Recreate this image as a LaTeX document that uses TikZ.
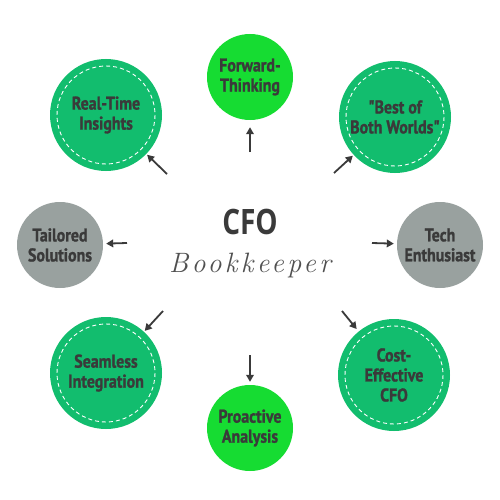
\documentclass[tikz,border=0pt]{standalone}
\usepackage{fontspec}
\setmainfont{PT Sans}
\newfontfamily\lblfont[FakeStretch=0.86,FakeBold=1.2]{PT Sans}
\newfontfamily\cfofont[FakeStretch=0.8]{Open Sans}
\newfontfamily\scriptf[LetterSpace=12]{Latin Modern Roman}
\usetikzlibrary{arrows.meta}
\definecolor{cteal}{RGB}{18,189,110}
\definecolor{clime}{RGB}{22,220,50}
\definecolor{cgray}{RGB}{153,161,159}
\definecolor{ink}{RGB}{58,58,58}
\definecolor{ink2}{RGB}{80,80,80}
\begin{document}
\begin{tikzpicture}[x=1pt,y=-1pt,
  bub/.style={circle, inner sep=0pt, align=center, text=ink,
    font=\lblfont\bfseries\fontsize{18.5}{20}\selectfont},
  tealb/.style={bub, fill=cteal, minimum size=112pt},
  limeb/.style={bub, fill=clime, minimum size=86pt},
  grayb/.style={bub, fill=cgray, minimum size=86pt},
  stitch/.style={draw=white, line width=0.9pt, dash pattern=on 4pt off 3pt},
  arr/.style={draw=ink, line width=1.8pt, -{Triangle[length=7pt,width=7.5pt]}, shorten >=3pt}]
\useasboundingbox[fill=white] (0,0) rectangle (500,500);

\node[limeb] (ft) at (250,77) {Forward-\\Thinking};
\node[tealb] (rt) at (106,115) {Real-Time\\Insights};
\node[tealb] (bb) at (395,117) {"Best of\\Both Worlds"};
\node[grayb] (ts) at (60,245) {Tailored\\Solutions};
\node[grayb] (te) at (440,245) {Tech\\Enthusiast};
\node[tealb] (si) at (106,373) {Seamless\\Integration};
\node[tealb] (ce) at (394,375) {Cost-\\Effective\\CFO};
\node[limeb] (pa) at (250,428) {Proactive\\Analysis};

\foreach \n in {rt,bb,si,ce} \draw[stitch] (\n.center) circle[radius=49];

\node[text=ink, font=\cfofont\bfseries\fontsize{35}{35}\selectfont] (cfo) at (250,222) {CFO};
\node[text=ink2, font=\scriptf\itshape\fontsize{28}{28}\selectfont] (bk) at (250,265) {Bookkeeper};

\coordinate (a1) at (250,152);
\coordinate (a2) at (167,174);
\coordinate (a3) at (334,173);
\coordinate (a4) at (127,243);
\coordinate (a5) at (372,243);
\coordinate (a6) at (163,311);
\coordinate (a7) at (342,311);
\coordinate (a8) at (250,355);

\draw[arr, shorten >=7pt] (a1) -- (ft);
\draw[arr, shorten >=1pt] (a2) -- (rt);
\draw[arr, shorten >=1pt] (a3) -- (bb);
\draw[arr] (a4) -- (ts);
\draw[arr] (a5) -- (te);
\draw[arr, shorten >=1pt] (a6) -- (si);
\draw[arr] (a7) -- (ce);
\draw[arr] (a8) -- (pa);
\end{tikzpicture}
\end{document}
